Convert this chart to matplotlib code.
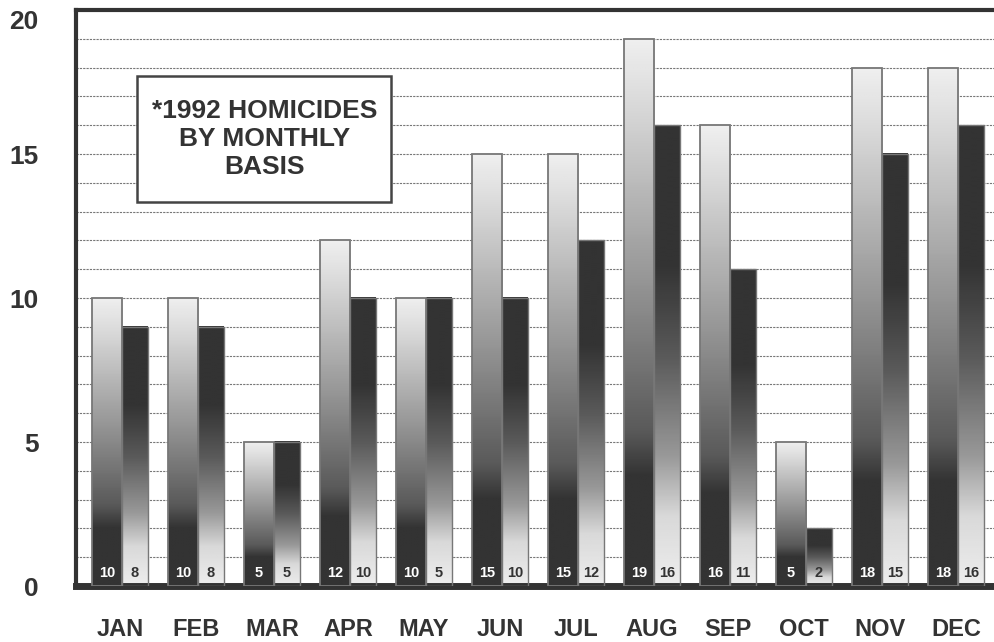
import numpy as np
import matplotlib
matplotlib.use('Agg')
import matplotlib.pyplot as plt
from matplotlib.patches import Rectangle

# Monthly values
months = ['JAN', 'FEB', 'MAR', 'APR', 'MAY', 'JUN', 'JUL', 'AUG', 'SEP', 'OCT', 'NOV', 'DEC']
first_bar = [10, 10, 5, 12, 10, 15, 15, 19, 16, 5, 18, 18]
second_bar = [9, 9, 5, 10, 10, 10, 12, 16, 11, 2, 15, 16]
# numbers printed at the foot of the bars (not always equal to the bar height)
first_label = [10, 10, 5, 12, 10, 15, 15, 19, 16, 5, 18, 18]
second_label = [8, 8, 5, 10, 5, 10, 12, 16, 11, 2, 15, 16]
y_ticks = [0, 5, 10, 15, 20]
title = '*1992 HOMICIDES\nBY MONTHLY\nBASIS'

plt.rcParams['font.family'] = ['Liberation Sans', 'DejaVu Sans']
ink = '#333333'

fig = plt.figure(figsize=(9.94, 6.42), dpi=100)
ax = fig.add_axes([0.0765, 0.0872, 0.9235, 0.8972])

w1 = 0.395
w2 = 0.342
x = np.arange(len(months))

# vertical shading profiles, t=0 at the top of the bar, t=1 at the bottom
t = np.linspace(0, 1, 200)
shade1 = np.interp(t, [0, 0.12, 0.45, 0.72, 0.8, 1], [0.94, 0.85, 0.58, 0.35, 0.2, 0.2])
shade2 = np.interp(t, [0, 0.3, 0.5, 0.72, 0.85, 1], [0.2, 0.2, 0.35, 0.6, 0.85, 0.93])

for i in range(len(months)):
    x1 = x[i]
    x2 = x[i] + w1
    ax.imshow(shade1[:, None], extent=[x1, x1 + w1, 0, first_bar[i]], aspect='auto',
              cmap='gray', vmin=0, vmax=1, zorder=2, interpolation='bilinear')
    ax.add_patch(Rectangle((x1, 0), w1, first_bar[i], fill=False, edgecolor='#777777',
                           lw=1.3, zorder=3))
    ax.imshow(shade2[:, None], extent=[x2, x2 + w2, 0, second_bar[i]], aspect='auto',
              cmap='gray', vmin=0, vmax=1, zorder=2, interpolation='bilinear')
    ax.add_patch(Rectangle((x2, 0), w2, second_bar[i], fill=False, edgecolor='#777777',
                           lw=1.0, zorder=3))
    ax.text(x1 + w1 / 2, 0.45, str(first_label[i]), ha='center', va='center',
            fontsize=10.5, fontweight='bold', color='white', zorder=4)
    ax.text(x2 + w2 / 2, 0.45, str(second_label[i]), ha='center', va='center',
            fontsize=10.5, fontweight='bold', color=ink, zorder=4)

# horizontal grid at every unit
for v in range(1, 20):
    ax.axhline(v, color='#777777', lw=0.8, ls=(0, (2, 1)), zorder=1)

# title box
ax.add_patch(Rectangle((0.0664, 0.6667), 0.2767, 0.21875, transform=ax.transAxes,
                       facecolor='white', edgecolor='#444444', lw=1.8, zorder=5))
ax.text(0.205, 0.776, title, transform=ax.transAxes, ha='center', va='center',
        fontsize=19, fontweight='bold', color=ink, linespacing=1.2, zorder=6)

ax.set_xlim(-0.21, 11.87)
ax.set_ylim(0, 20)

ax.set_xticks(x + (w1 + w2) / 2)
ax.set_xticklabels(months, fontsize=17, fontweight='bold', color=ink)
ax.set_yticks(y_ticks)
ax.set_yticklabels([str(v) for v in y_ticks], fontsize=19, fontweight='bold', color=ink)
ax.tick_params(axis='x', length=0, pad=23)
ax.tick_params(axis='y', length=0, pad=27)
ax.get_yticklabels()[-1].set_va('top')

ax.spines['right'].set_visible(False)
ax.spines['left'].set_linewidth(3)
ax.spines['top'].set_linewidth(3)
ax.spines['bottom'].set_linewidth(5)
for s in ['left', 'top', 'bottom']:
    ax.spines[s].set_color(ink)

fig.savefig('out.png', dpi=100)
